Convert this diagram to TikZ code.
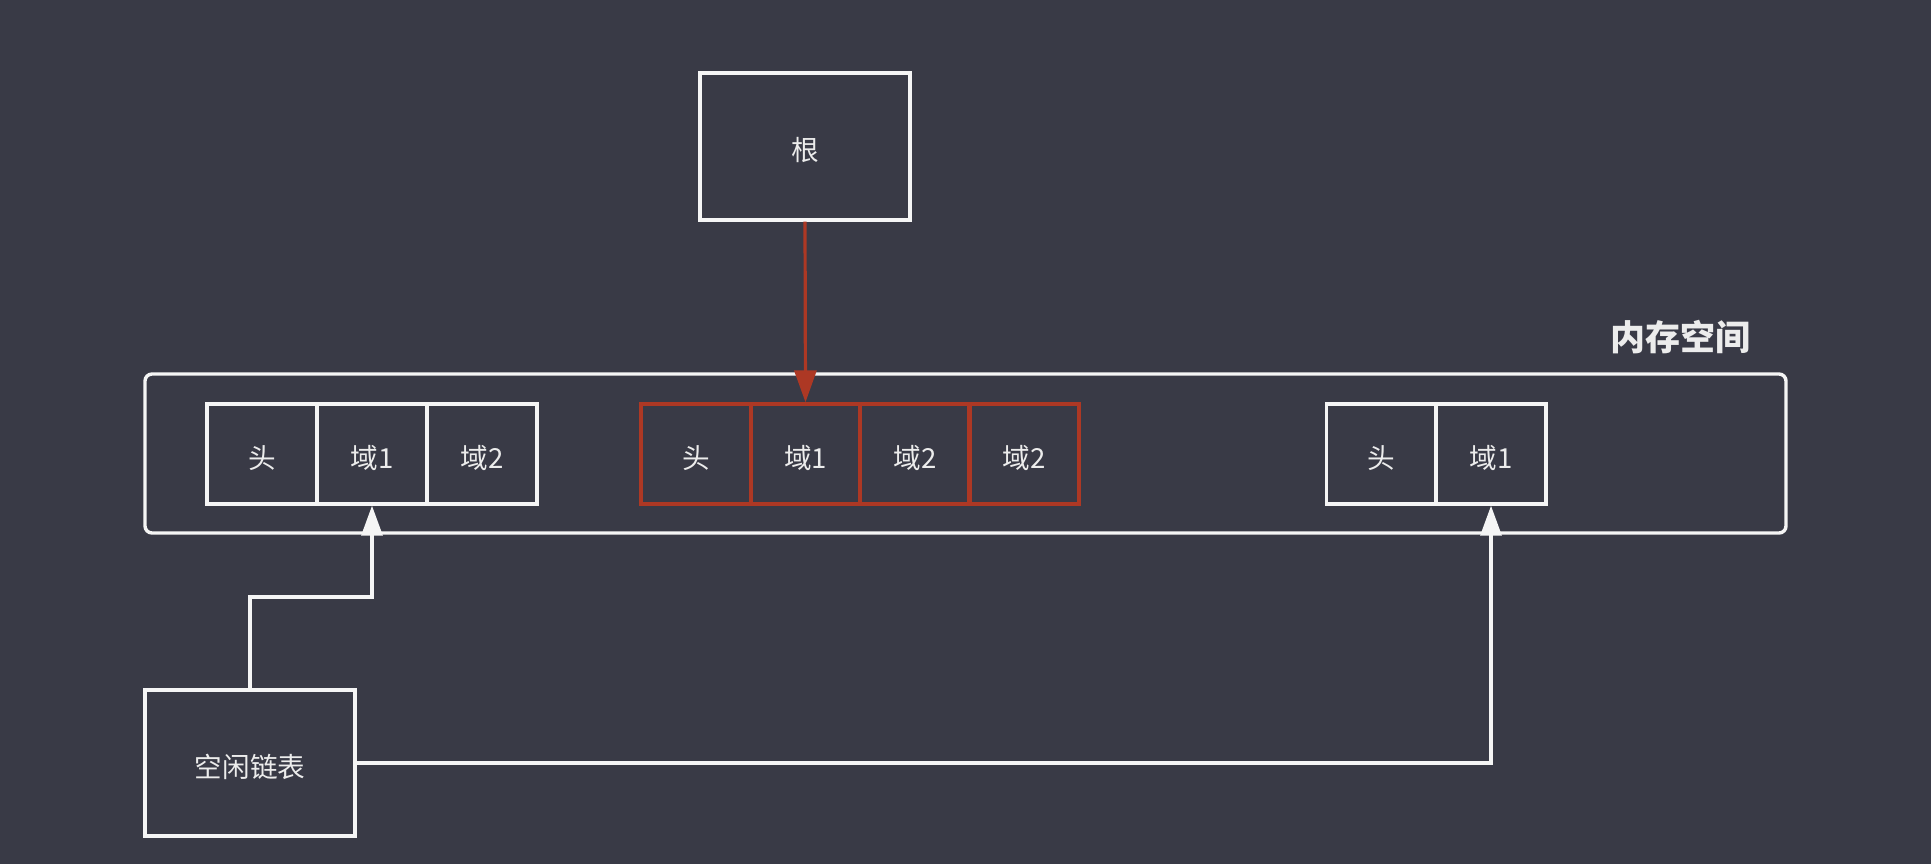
\documentclass[tikz,border=0pt]{standalone}
\usepackage{fontspec}
\setmainfont{Noto Sans CJK SC}
\usetikzlibrary{arrows.meta}
\definecolor{bgc}{RGB}{57,58,70}
\definecolor{wline}{RGB}{245,245,245}
\definecolor{rline}{RGB}{173,56,36}
\definecolor{txt}{RGB}{236,236,236}
\tikzset{
  cell/.style={draw=wline, line width=1.7pt, minimum width=55pt, minimum height=50pt, inner sep=0pt, text=txt, font=\fontsize{13.8pt}{16pt}\selectfont, text height=14pt, text depth=0pt},
  rcell/.style={cell, draw=rline},
  bigbox/.style={draw=wline, line width=1.7pt, inner sep=0pt, text=txt, font=\fontsize{13.8pt}{16pt}\selectfont, text height=14pt, text depth=0pt},
  wconn/.style={draw=wline, line width=1.6pt, -{Triangle[length=15pt,width=10.5pt]}},
  rconn/.style={draw=rline, line width=1.6pt, -{Triangle[length=16pt,width=11pt]}},
}
\begin{document}
\begin{tikzpicture}[x=0.5pt,y=-0.5pt]
\useasboundingbox (0,0) rectangle (1931,864);
\fill[bgc] (0,0) rectangle (1931,864);
% memory space
\draw[wline, line width=1.7pt, rounded corners=3.5pt] (145,374) rectangle (1786,533);
\node[text=txt, font=\bfseries\fontsize{17.5pt}{20pt}\selectfont] (label) at (1680,337) {内存空间};
% root
\node[bigbox, minimum width=105pt, minimum height=73.5pt] (root) at (805,146.5) {根};
% left block
\node[cell] (l1) at (262,454) {头};
\node[cell] (l2) at (372,454) {域1};
\node[cell] (l3) at (482,454) {域2};
% red block
\node[rcell] (r1) at (696,454) {头};
\node[rcell] (r2) at (805.5,454) {域1};
\node[rcell] (r3) at (915,454) {域2};
\node[rcell] (r4) at (1024,454) {域2};
% right block
\node[cell] (q1) at (1381.5,454) {头};
\node[cell] (q2) at (1491,454) {域1};
% free list
\node[bigbox, minimum width=105pt, minimum height=73pt] (free) at (250,763) {空闲链表};
% connectors
\draw[rconn] (root.south) -- (r2.north);
\coordinate (bend) at (250,597);
\draw[wconn] (free.north) -- (bend) -| (l2.south);
\draw[wconn] (free.east) -| (q2.south);
\end{tikzpicture}
\end{document}
